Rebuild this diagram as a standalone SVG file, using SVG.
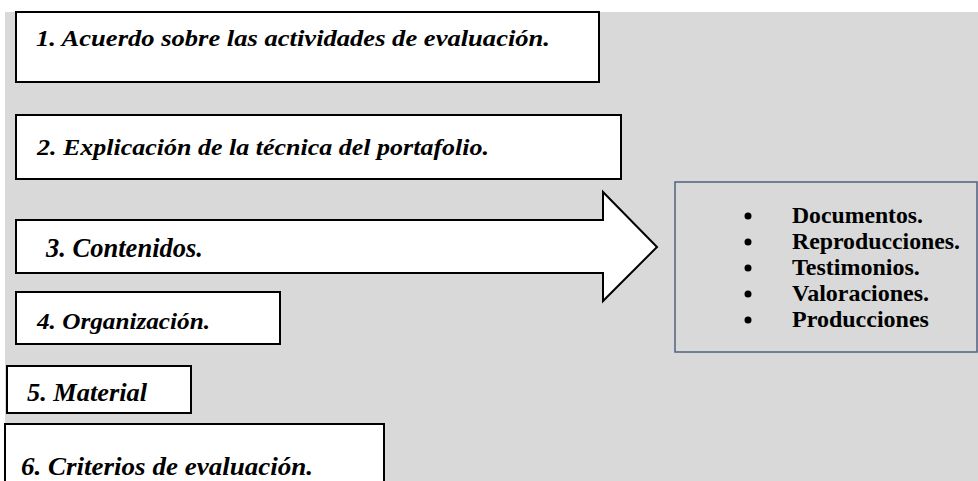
<svg xmlns="http://www.w3.org/2000/svg" width="978" height="481" viewBox="0 0 978 481">
  <style>
    .box { fill: #ffffff; stroke: #000000; stroke-width: 2; }
    .lbl { font-family: "Liberation Serif", "Times New Roman", serif; font-weight: bold; font-style: italic; font-size: 24px; fill: #000000; }
    .item { font-family: "Liberation Serif", "Times New Roman", serif; font-weight: bold; font-size: 24px; fill: #000000; }
    .bullet { fill: #000000; }
  </style>
  <rect id="background" x="5" y="12" width="973" height="469" fill="#d9d9d9"/>
  <g id="node1">
    <rect class="box" x="16" y="12" width="583" height="70"/>
    <text class="lbl" x="36" y="46" textLength="514" lengthAdjust="spacingAndGlyphs">1. Acuerdo sobre las actividades de evaluación.</text>
  </g>
  <g id="node2">
    <rect class="box" x="16" y="115" width="605" height="64"/>
    <text class="lbl" x="37" y="155" textLength="452" lengthAdjust="spacingAndGlyphs">2. Explicación de la técnica del portafolio.</text>
  </g>
  <g id="node3">
    <polygon class="box" points="16,220 603,220 603,192 657,247 603,301 603,273 16,273"/>
    <text class="lbl" x="46" y="257" textLength="157" lengthAdjust="spacingAndGlyphs" style="font-size:27px">3. Contenidos.</text>
  </g>
  <g id="node4">
    <rect class="box" x="16" y="292" width="264" height="52"/>
    <text class="lbl" x="37" y="329" textLength="173" lengthAdjust="spacingAndGlyphs">4. Organización.</text>
  </g>
  <g id="node5">
    <rect class="box" x="7" y="366" width="184" height="47"/>
    <text class="lbl" x="27" y="401" textLength="120" lengthAdjust="spacingAndGlyphs" style="font-size:25px">5. Material</text>
  </g>
  <g id="node6">
    <rect class="box" x="5" y="424" width="379" height="70"/>
    <text class="lbl" x="21" y="475" textLength="292" lengthAdjust="spacingAndGlyphs" style="font-size:26px">6. Criterios de evaluación.</text>
  </g>
  <g id="list">
    <rect x="675" y="182" width="302" height="170" fill="#d9d9d9" stroke="#4f6080" stroke-width="1.5"/>
    <circle class="bullet" cx="748" cy="216" r="3.5"/>
    <circle class="bullet" cx="748" cy="242" r="3.5"/>
    <circle class="bullet" cx="748" cy="268" r="3.5"/>
    <circle class="bullet" cx="748" cy="294" r="3.5"/>
    <circle class="bullet" cx="748" cy="320" r="3.5"/>
    <text class="item" x="792" y="223" textLength="131" lengthAdjust="spacingAndGlyphs">Documentos.</text>
    <text class="item" x="792" y="249" textLength="168" lengthAdjust="spacingAndGlyphs">Reproducciones.</text>
    <text class="item" x="792" y="275">Testimonios.</text>
    <text class="item" x="792" y="301">Valoraciones.</text>
    <text class="item" x="792" y="327">Producciones</text>
  </g>
  <g id="connectors"></g>
</svg>
